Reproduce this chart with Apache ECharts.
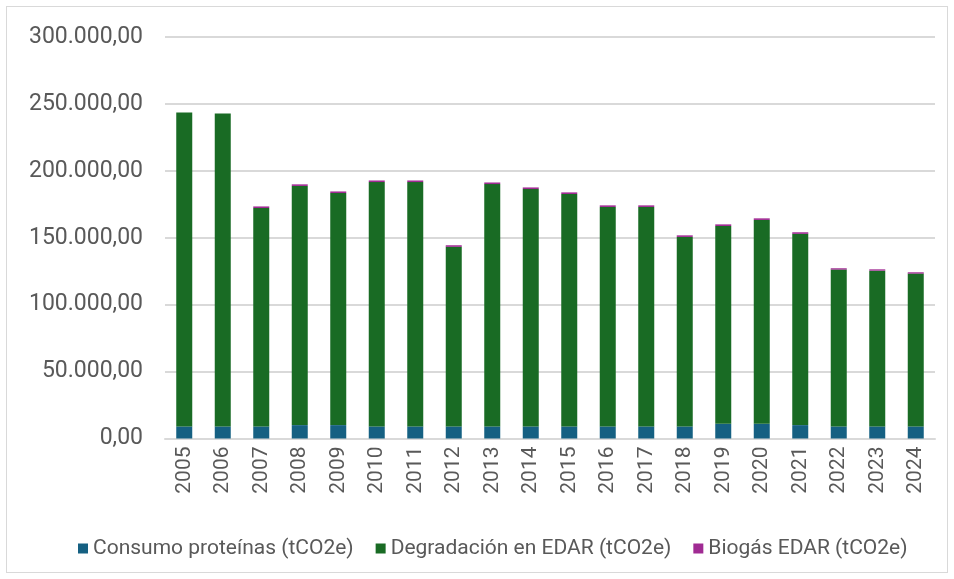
<!DOCTYPE html>
<html>

<head>
    <meta charset='UTF-8'>
    <script src="https://cdn.jsdelivr.net/npm/echarts@6/dist/echarts.min.js"></script>
    <style>
        html, body {
            margin: 0;
            padding: 0;
            background: #ffffff;
        }
        #frame {
            position: absolute;
            left: 6px;
            top: 6px;
            width: 940px;
            height: 565px;
            border: 1px solid #d9d9d9;
        }
        #chart {
            position: absolute;
            left: 0;
            top: 0;
            width: 954px;
            height: 579px;
        }
    </style>
    <title>Emisiones EDAR</title>
</head>

<body>
    <div id="frame"></div>
    <div id="chart"></div>

    <script>
        // years
        var years = ['2005', '2006', '2007', '2008', '2009', '2010', '2011', '2012', '2013', '2014',
            '2015', '2016', '2017', '2018', '2019', '2020', '2021', '2022', '2023', '2024'];
        // Consumo proteínas (tCO2e)
        var proteinas = [9000, 9000, 9000, 10000, 10000, 9000, 9000, 9000, 9000, 9000,
            9000, 9000, 9000, 9000, 11000, 11000, 10000, 9000, 9000, 9000];
        // Degradación en EDAR (tCO2e)
        var degradacion = [234600, 233800, 163200, 178700, 173400, 182600, 182600, 134200, 181100, 177400,
            173700, 164000, 164000, 141600, 147800, 152300, 142900, 117200, 116400, 114200];
        // Biogás EDAR (tCO2e)
        var biogas = [0, 0, 1200, 1200, 1200, 1200, 1200, 1200, 1200, 1200,
            1200, 1200, 1200, 1200, 1200, 1200, 1200, 1000, 1000, 1000];

        var yTicks = [0, 50000, 100000, 150000, 200000, 250000, 300000];

        function fmt(v) {
            var s = Math.round(v).toString().replace(/\B(?=(\d{3})+(?!\d))/g, '.');
            return s + ',00';
        }

        var myChart = echarts.init(document.getElementById('chart'), null, {
            renderer: 'canvas'
        });

        var txt = '#595959';

        var option = {
            animation: false,
            color: ['#156082', '#196b24', '#a02b93'],
            textStyle: {
                fontFamily: 'Roboto'
            },
            grid: {
                left: 165,
                right: 19,
                top: 37,
                bottom: 140.5
            },
            legend: {
                top: 533,
                left: 73,
                itemWidth: 10,
                itemHeight: 10,
                itemGap: 22,
                icon: 'rect',
                textStyle: {
                    color: txt,
                    fontSize: 21,
                    fontFamily: 'Roboto'
                },
                data: ['Consumo proteínas (tCO2e)', 'Degradación en EDAR (tCO2e)', 'Biogás EDAR (tCO2e)']
            },
            xAxis: {
                type: 'category',
                data: years,
                axisLine: {
                    lineStyle: {
                        color: '#d9d9d9',
                        width: 2
                    }
                },
                axisTick: {
                    show: false
                },
                axisLabel: {
                    rotate: 90,
                    margin: 8,
                    color: txt,
                    fontSize: 21,
                    fontFamily: 'Roboto'
                }
            },
            yAxis: {
                type: 'value',
                min: yTicks[0],
                max: yTicks[yTicks.length - 1],
                interval: 50000,
                axisLine: {
                    show: false
                },
                axisTick: {
                    show: false
                },
                splitLine: {
                    lineStyle: {
                        color: '#d9d9d9',
                        width: 2
                    }
                },
                axisLabel: {
                    margin: 22,
                    color: txt,
                    fontSize: 23,
                    fontFamily: 'Roboto',
                    formatter: fmt
                }
            },
            series: [{
                name: 'Consumo proteínas (tCO2e)',
                type: 'bar',
                stack: 'total',
                barWidth: 16,
                data: proteinas
            }, {
                name: 'Degradación en EDAR (tCO2e)',
                type: 'bar',
                stack: 'total',
                barWidth: 16,
                data: degradacion
            }, {
                name: 'Biogás EDAR (tCO2e)',
                type: 'bar',
                stack: 'total',
                barWidth: 16,
                data: biogas
            }]
        };

        myChart.setOption(option);
        window.addEventListener('resize', myChart.resize);
    </script>
</body>

</html>
